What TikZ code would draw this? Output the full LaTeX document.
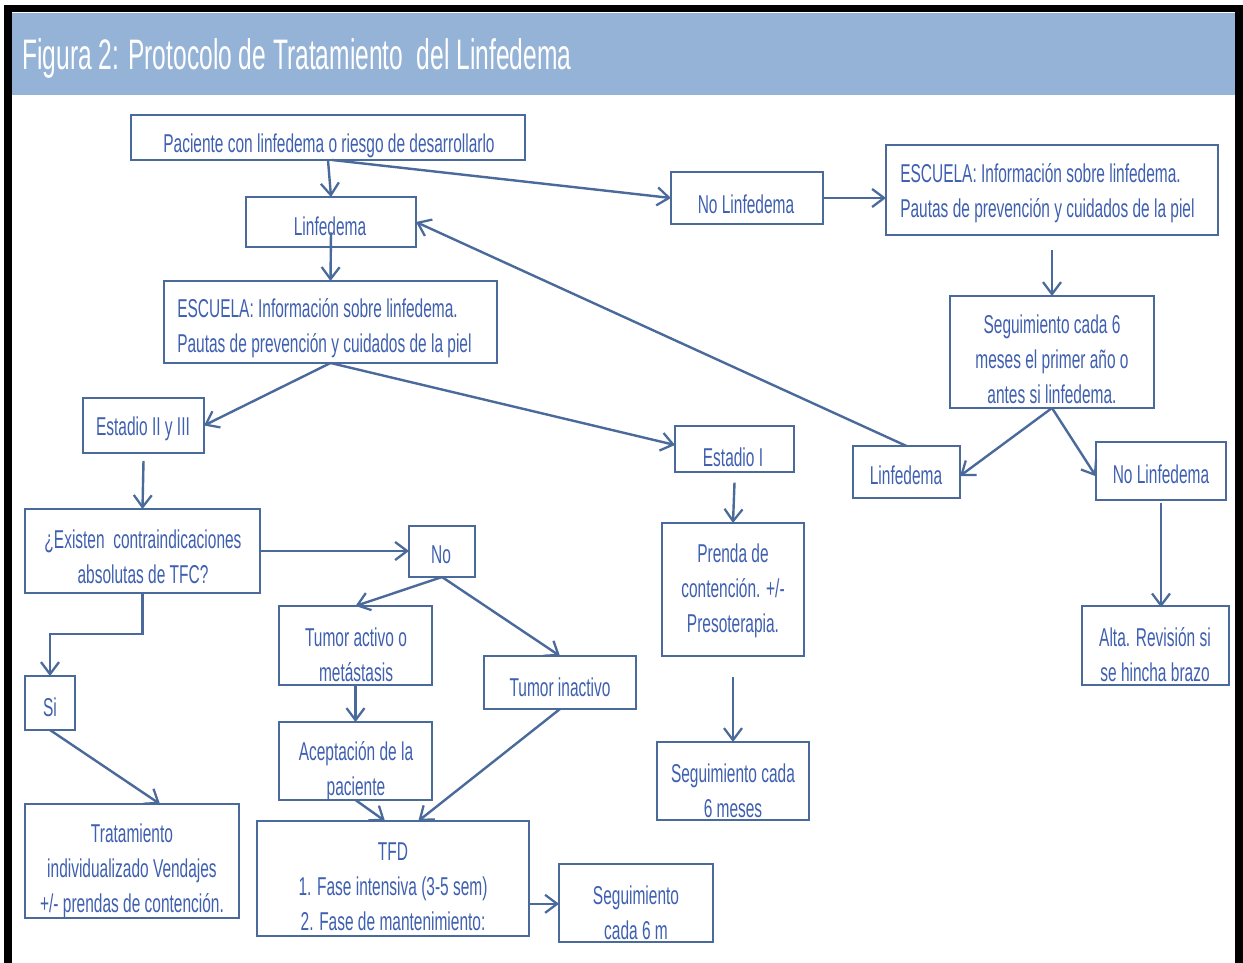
\documentclass[tikz,border=0pt]{standalone}
\usepackage{fontspec}
\setmainfont{Liberation Sans}[FakeStretch=0.6]
\usetikzlibrary{arrows.meta}
\definecolor{linecol}{HTML}{4A6A9C}
\definecolor{txtcol}{HTML}{3F60B0}
\definecolor{titlebar}{HTML}{95B3D7}
\newcommand\mybox[5]{%
  \node[box, minimum width={(#4-#2)*0.75pt}, minimum height={(#5-#3)*0.75pt}] (#1) at ({(#2+#4)/2},{(#3+#5)/2}) {};}
\begin{document}
\begin{tikzpicture}[x=0.75pt,y=-0.75pt,
  box/.style={draw=linecol, line width=1.5pt, inner sep=0pt, outer sep=0pt, fill=none},
  txt/.style={text=txtcol, inner sep=0pt, font=\fontsize{19.35}{26.25}\selectfont, align=center},
  arr/.style={draw=linecol, line width=1.8pt, -{Straight Barb[length=9pt,width=13.5pt,line width=1.7pt]}},
  ln/.style={draw=linecol, line width=1.8pt}]
\useasboundingbox (0,0) rectangle (1243,963);
\fill[white] (0,0) rectangle (1243,963);
\fill[black] (4,5) rectangle (1243,12);
\fill[black] (4,5) rectangle (12,963);
\fill[black] (1235,5) rectangle (1243,963);
\fill[titlebar] (12,13) rectangle (1235,95);
\node[anchor=west, text=white, inner sep=0pt, font=\fontsize{32}{36}\selectfont, xscale=0.96] (title) at (22,58) {Figura 2: Protocolo de Tratamiento\ \ del Linfedema};

% boxes
\mybox{pac}{131}{115}{525}{160}
\mybox{linf}{246}{197}{416}{247}
\mybox{escL}{164}{281}{497}{363}
\mybox{noL}{671}{172}{823}{224}
\mybox{escR}{886}{145}{1218}{235}
\mybox{seg6}{950}{296}{1154}{408}
\mybox{linfR}{853}{446}{960}{498}
\mybox{noLR}{1096}{442}{1226}{500}
\mybox{alta}{1082}{606}{1229}{685}
\mybox{est2}{83}{398}{204}{453}
\mybox{est1}{675}{426}{794}{472}
\mybox{prenda}{662}{523}{804}{656}
\mybox{segm}{657}{742}{809}{820}
\mybox{exist}{25}{509}{260}{593}
\mybox{no}{409}{526}{475}{577}
\mybox{tact}{279}{606}{432}{685}
\mybox{tinact}{484}{656}{636}{709}
\mybox{si}{25}{676}{75}{730}
\mybox{acep}{279}{722}{432}{800}
\mybox{tfd}{257}{821}{529}{936}
\mybox{trat}{25}{804}{239}{918}
\mybox{segf}{559}{864}{713}{942}

% texts
\node[txt] (t-pac) at (329,146) {Paciente con linfedema o riesgo de desarrollarlo};
\node[txt] (t-linf) at (330,226) {Linfedema};
\node[txt, anchor=west, align=left] (t-escL) at (177,328) {ESCUELA: Información sobre linfedema.\\Pautas de prevención y cuidados de la piel};
\node[txt] (t-noL) at (746,204) {No Linfedema};
\node[txt, anchor=west, align=left] (t-escR) at (900,193) {ESCUELA: Información sobre linfedema.\\Pautas de prevención y cuidados de la piel};
\node[txt] (t-seg6) at (1052,359) {Seguimiento cada 6\\meses el primer año o\\antes si linfedema.};
\node[txt] (t-linfR) at (906,475) {Linfedema};
\node[txt] (t-noLR) at (1161,474) {No Linfedema};
\node[txt] (t-alta) at (1155,655) {Alta. Revisión si\\se hincha brazo};
\node[txt] (t-est2) at (143,429) {Estadio II y III};
\node[txt] (t-est1) at (733,457) {Estadio I};
\node[txt] (t-prenda) at (733,591) {Prenda de\\contención. +/-\\Presoterapia.};
\node[txt] (t-segm) at (733,791) {Seguimiento cada\\6 meses};
\node[txt] (t-exist) at (143,557) {¿Existen\ \ contraindicaciones\\absolutas de TFC?};
\node[txt] (t-no) at (441,555) {No};
\node[txt] (t-tact) at (356,655) {Tumor activo o\\metástasis};
\node[txt] (t-tinact) at (560,687) {Tumor inactivo};
\node[txt] (t-si) at (50,707) {Si};
\node[txt] (t-acep) at (356,771) {Aceptación de la\\paciente};
\node[txt] (t-tfd) at (393,887) {TFD\\1. Fase intensiva (3-5 sem)\\2. Fase de mantenimiento:};
\node[txt] (t-trat) at (132,871) {Tratamiento\\individualizado Vendajes\\+/- prendas de contención.};
\node[txt] (t-segf) at (636,913) {Seguimiento\\cada 6 m};

% connectors
\draw[arr] (pac.south) -- (linf.north);
\draw[arr] ([xshift=3pt]pac.south) -- (noL.west);
\draw[arr] (noL.east) -- (noL.east -| escR.west);
\draw[arr] ([yshift=11pt]linf.south) -- (escL.north);
\draw[arr] ([yshift=-11pt]escR.south) -- (seg6.north);
\draw[arr] (seg6.south) -- ([yshift=-3pt]linfR.east);
\draw[arr] (seg6.south) -- ([yshift=-4pt]noLR.west);
\draw[arr] ([yshift=-2pt]noLR.south) -- ([yshift=-1pt]noLR.south |- alta.north);
\draw[arr] (linfR.north) -- (linf.east);
\draw[arr] (escL.south) -- (est2.east);
\draw[arr] (escL.south) -- ([yshift=3pt]est1.west);
\draw[arr] ([yshift=-6pt]est2.south) -- (exist.north);
\draw[arr] ([yshift=-8pt]est1.south) -- (prenda.north);
\draw[arr] ([yshift=-16pt]prenda.south) -- (segm.north);
\draw[arr] (exist.east) -- (exist.east -| no.west);
\draw[arr] (exist.south) -- ++(0,41) -| (si.north);
\draw[arr] (no.south) -- (tact.north);
\draw[arr] (no.south) -- (tinact.north);
\draw[arr] (tact.south) -- (acep.north);
\draw[arr] (acep.south) -- ([xshift=-6pt]tfd.north);
\draw[arr] (tinact.south) -- ([xshift=19pt]tfd.north);
\draw[arr] (si.south) -- ([xshift=21pt]trat.north);
\draw[arr] ([yshift=-19pt]tfd.east) -- ([yshift=-19pt]tfd.east -| segf.west);
\end{tikzpicture}
\end{document}
